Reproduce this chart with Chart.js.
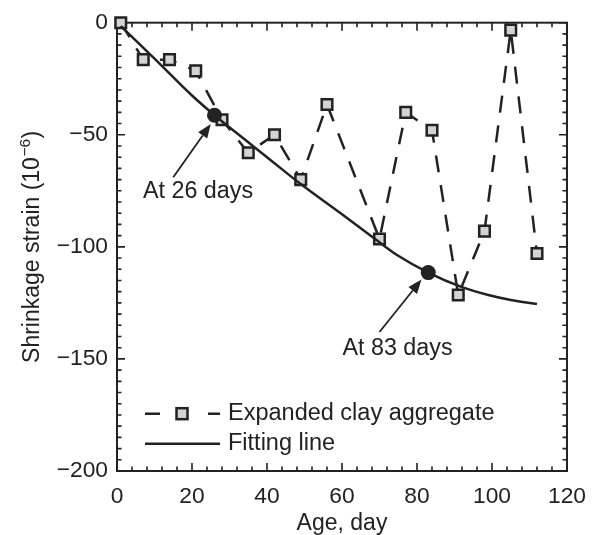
<!DOCTYPE html>
<html>
<head>
<meta charset="utf-8">
<script src="https://cdn.jsdelivr.net/npm/chart.js@4.4.1/dist/chart.umd.min.js"></script>
<style>
html,body{margin:0;padding:0;background:#fff;}
#wrap{width:598px;height:535px;}
</style>
</head>
<body>
<div id="wrap"><canvas id="c" width="598" height="535"></canvas></div>
<script>
// ---- data ----
const ages      = [1, 7, 14, 21, 28, 35, 42, 49, 56, 70, 77, 84, 91, 98, 105, 112];
const strain    = [0, -16.5, -16.5, -21.5, -43.3, -58, -50, -70, -36.5, -96.5, -40, -48, -121.5, -93, -3.3, -103];
const fitAges   = [1, 10, 20, 26, 33, 40, 49, 60, 70, 75, 83, 92, 99, 105, 112];
const fitStrain = [-1.5, -16, -32.5, -41.3, -50.7, -60, -72, -85.5, -98, -104, -111.5, -118, -121.5, -123.7, -125.5];
const markAges   = [26, 83];
const markStrain = [-41.3, -111.5];
const xTickValues = [0, 20, 40, 60, 80, 100, 120];
const yTickValues = [0, -50, -100, -150, -200];
const seriesNames = ['Expanded clay aggregate', 'Fitting line'];
const noteLabels  = ['At 26 days', 'At 83 days'];
const xTitle = 'Age, day';
const yTitleMain = 'Shrinkage strain (10';
const yTitleSup = '\u22126';
const yTitleEnd = ')';

// ---- styling ----
const FONT = "'Liberation Sans', Arial, Helvetica, sans-serif";
const INK = '#222222';
const MARK_FILL = '#d3d3d3';
const xMinorStep = 4, yMinorStep = 5;

const pts = (xs, ys) => xs.map((v, i) => ({x: v, y: ys[i]}));

// annotation anchors in data units
const notes = [
  {text: noteLabels[0], at: [21.6, -75.3], from: [15.0, -69.0], to: [25.0, -45.2]},
  {text: noteLabels[1], at: [74.8, -145.3], from: [70.0, -138.0], to: [81.2, -114.6]}
];

function drawArrow(ctx, x0, y0, x1, y1) {
  const ang = Math.atan2(y1 - y0, x1 - x0);
  const L = 14, W = 5.5;
  const bx = x1 - L * Math.cos(ang), by = y1 - L * Math.sin(ang);
  ctx.beginPath();
  ctx.moveTo(x0, y0); ctx.lineTo(bx, by);
  ctx.stroke();
  ctx.beginPath();
  ctx.moveTo(x1, y1);
  ctx.lineTo(bx + W * Math.sin(ang), by - W * Math.cos(ang));
  ctx.lineTo(bx - W * Math.sin(ang), by + W * Math.cos(ang));
  ctx.closePath();
  ctx.fill();
}

const framePlugin = {
  id: 'frame',
  beforeDatasetsDraw(chart) {
    const {ctx, chartArea: a, scales: {x, y}} = chart;
    ctx.save();
    ctx.strokeStyle = INK;
    ctx.lineWidth = 2;
    ctx.strokeRect(a.left, a.top, a.right - a.left, a.bottom - a.top);
    ctx.lineWidth = 1.6;
    ctx.beginPath();
    for (let v = x.min; v <= x.max; v += xMinorStep) {
      const px = x.getPixelForValue(v);
      const L = (v % 20 === 0) ? 8 : 4.5;
      ctx.moveTo(px, a.bottom); ctx.lineTo(px, a.bottom - L);
      ctx.moveTo(px, a.top); ctx.lineTo(px, a.top + L);
    }
    for (let v = y.min; v <= y.max; v += yMinorStep) {
      const py = y.getPixelForValue(v);
      const L = (v % 50 === 0) ? 8 : 4.5;
      ctx.moveTo(a.left, py); ctx.lineTo(a.left + L, py);
      ctx.moveTo(a.right, py); ctx.lineTo(a.right - L, py);
    }
    ctx.stroke();
    ctx.restore();
  },
  afterDraw(chart) {
    const {ctx, chartArea: a, scales: {x, y}} = chart;
    ctx.save();
    ctx.fillStyle = INK;
    ctx.strokeStyle = INK;
    // annotations
    ctx.font = '23.3px ' + FONT;
    ctx.textAlign = 'center';
    ctx.textBaseline = 'middle';
    ctx.lineWidth = 1.8;
    notes.forEach(n => {
      ctx.fillText(n.text, x.getPixelForValue(n.at[0]), y.getPixelForValue(n.at[1]));
      drawArrow(ctx, x.getPixelForValue(n.from[0]), y.getPixelForValue(n.from[1]),
                x.getPixelForValue(n.to[0]), y.getPixelForValue(n.to[1]));
    });
    // legend
    const lx0 = a.left + 28, lx1 = a.left + 103, tx = a.left + 111;
    const r1 = a.top + 391, r2 = a.top + 421;
    ctx.lineWidth = 2.5;
    ctx.beginPath();
    ctx.moveTo(lx0, r1); ctx.lineTo(lx0 + 15, r1);
    ctx.moveTo(lx1 - 12, r1); ctx.lineTo(lx1, r1);
    ctx.stroke();
    const mx = (lx0 + lx1) / 2 - 0.5, s = 5.5;
    ctx.fillStyle = MARK_FILL;
    ctx.fillRect(mx - s, r1 - s, 2 * s, 2 * s);
    ctx.strokeRect(mx - s, r1 - s, 2 * s, 2 * s);
    ctx.beginPath();
    ctx.moveTo(lx0, r2); ctx.lineTo(lx1, r2);
    ctx.stroke();
    ctx.fillStyle = INK;
    ctx.textAlign = 'left';
    ctx.font = '23.5px ' + FONT;
    ctx.fillText(seriesNames[0], tx, r1);
    ctx.fillText(seriesNames[1], tx, r2);
    // y-axis title with superscript
    ctx.translate(31, (a.top + a.bottom) / 2);
    ctx.rotate(-Math.PI / 2);
    const big = '23px ' + FONT, small = '15.5px ' + FONT;
    ctx.font = big; const w1 = ctx.measureText(yTitleMain).width; const w3 = ctx.measureText(yTitleEnd).width;
    ctx.font = small; const w2 = ctx.measureText(yTitleSup).width;
    let cx = -(w1 + w2 + w3 + 1) / 2;
    ctx.textAlign = 'left';
    ctx.textBaseline = 'alphabetic';
    ctx.font = big; ctx.fillText(yTitleMain, cx, 8); cx += w1;
    ctx.font = small; ctx.fillText(yTitleSup, cx + 0.5, -1.5); cx += w2 + 1;
    ctx.font = big; ctx.fillText(yTitleEnd, cx, 8);
    ctx.restore();
  }
};

const minus = v => (v < 0 ? '\u2212' + Math.abs(v) : String(v));

new Chart(document.getElementById('c'), {
  type: 'line',
  data: {
    datasets: [
      {
        label: 'marks',
        data: pts(markAges, markStrain),
        showLine: false,
        pointStyle: 'circle',
        pointRadius: 7.5,
        pointBackgroundColor: INK,
        pointBorderColor: INK,
        pointBorderWidth: 0,
        clip: false
      },
      {
        label: seriesNames[1],
        data: pts(fitAges, fitStrain),
        borderColor: INK,
        borderWidth: 2.5,
        pointRadius: 0,
        cubicInterpolationMode: 'monotone',
        fill: false,
        clip: false
      },
      {
        label: seriesNames[0],
        data: pts(ages, strain),
        borderColor: INK,
        borderWidth: 2.5,
        borderDash: [17, 13],
        tension: 0,
        pointStyle: 'rect',
        pointRadius: 7.5,
        pointBackgroundColor: MARK_FILL,
        pointBorderColor: INK,
        pointBorderWidth: 2.5,
        fill: false,
        clip: false
      }
    ]
  },
  options: {
    responsive: false,
    animation: false,
    devicePixelRatio: 1,
    events: [],
    layout: {padding: {top: 21, right: 30, left: 0, bottom: 0}},
    plugins: {legend: {display: false}, tooltip: {enabled: false}},
    scales: {
      x: {
        type: 'linear', min: 0, max: 120,
        afterFit: s => { s.height = 64; },
        afterBuildTicks: s => { s.ticks = xTickValues.map(v => ({value: v})); },
        ticks: {color: INK, font: {family: FONT, size: 22.8}, padding: 12, maxRotation: 0, callback: v => String(v)},
        grid: {display: false, drawTicks: false},
        border: {display: false},
        title: {display: true, text: xTitle, color: INK, font: {family: FONT, size: 23, lineHeight: 1.0}, padding: {top: 0, bottom: 0}}
      },
      y: {
        type: 'linear', min: -200, max: 0,
        afterFit: s => { s.width = 117; },
        afterBuildTicks: s => { s.ticks = yTickValues.map(v => ({value: v})); },
        ticks: {color: INK, font: {family: FONT, size: 22.8}, padding: 9, callback: v => minus(v)},
        grid: {display: false, drawTicks: false},
        border: {display: false}
      }
    }
  },
  plugins: [framePlugin]
});
</script>
</body>
</html>
